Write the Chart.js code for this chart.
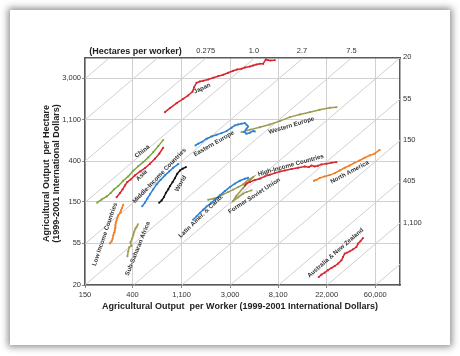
<!DOCTYPE html>
<html><head><meta charset="utf-8">
<script src="https://cdn.jsdelivr.net/npm/chart.js@4.4.1/dist/chart.umd.min.js"></script>
<style>
html,body{margin:0;padding:0;background:#fff;width:460px;height:356px;overflow:hidden}
#card{position:absolute;left:10px;top:10px;width:440px;height:335px;background:#fff;box-shadow:0 0 7px 2px rgba(0,0,0,0.45)}
#wrap{position:absolute;left:0;top:0;width:460px;height:356px}
</style></head><body>
<div id="card"></div>
<div id="wrap"><canvas id="c" width="460" height="356"></canvas></div>
<script>
// ---- axis ticks ----
const xTicks = [150, 400, 1100, 3000, 8100, 22000, 60000];
const xTickLabels = ['150', '400', '1,100', '3,000', '8,100', '22,000', '60,000'];
const yTicks = [20, 55, 150, 400, 1100, 3000];
const yTickLabels = ['20', '55', '150', '400', '1,100', '3,000'];
const X_MIN = 150, X_MAX = 100000, Y_MIN = 20, Y_MAX = 4900;
// hectares per worker (top and right axes)
const topHectares = [0.37, 1.0, 2.7, 7.5];
const topHectareLabels = ['0.275', '1.0', '2.7', '7.5'];
const rightHectares = [20, 55, 150, 405, 1100];
const rightHectareLabels = ['20', '55', '150', '405', '1,100'];
// constant hectares-per-worker guide lines
const hectareLines = [0.0505, 0.137, 0.373, 1.015, 2.76, 7.5, 20.4, 55.4, 150.6, 409, 1112, 3023];

// ---- series: output per worker (W) and output per hectare (H) ----
const japanW = [780,866,994,1138,1262,1382,1428,1500,1605,1718,1906,2114,2341,2600,2880,3193,3465,3796,4065,4505,4821,5170,5535,5924,6264,6565,6900,7545];
const japanH = [1319,1453,1640,1824,1976,2177,2416,2689,2773,2821,2912,3034,3155,3262,3425,3592,3710,3772,3891,3986,4087,4188,4259,4259,4725,4645,4612,4645];
const chinaW = [193,212,235,255,273,298,330,366,406,450,499,553,613,680,753];
const chinaH = [147,159,171,186,203,220,250,278,319,356,393,440,500,579,670];
const asiaW = [288,309,326,342,359,385,420,466,517,573,635,694,753];
const asiaH = [168,186,203,223,242,258,285,313,340,378,427,482,557];
const micW = [489,517,543,573,613,658,715,780,851,924,1027];
const micH = [135,147,162,180,203,229,256,285,313,343,375];
const worldW = [694,729,765,797,836,866,915,960,1006,1064,1124,1203];
const worldH = [147,155,168,187,203,220,242,267,296,321,335,348];
const lowIncW = [251,260,265,269,273,277,279,280,284,288,292,298,309,315,322,330];
const lowIncH = [55,57.7,61.5,66.6,71.2,75.2,79.5,84.9,90.7,95.9,101,108,115.5,122,129,140];
const ssaW = [360,366,374,391,383,398,406,414,425,435,447];
const ssaH = [40.1,45.2,49.8,51.7,56.2,62.0,66.6,72.5,78.4,81.9,87.0];
const eEurW = [1469,1551,1664,1844,2045,2265,2513,2786,3089,3306,3540,3796,4065,4209,4351,4209,4007,4209,4505,4821,4993];
const eEurH = [589,614,638,693,732,763,793,833,904,956,979,996,1012,972,932,883,813,782,801,833,827];
const wEurW = [3796,4505,5535,6800,8364,10279,12629,15512,19066,23442,26915];
const wEurH = [813,862,917,979,1061,1169,1247,1319,1399,1467,1489];
const highIncW = [4065,4209,4505,4993,5535,6134,6800,7545,8364,9270,10645,12198,13994,15208,16070,17200,18411,19748,21907,24290,26915];
const highIncH = [223,235,242,255,263,278,289,301,313,321,332,343,354,348,362,354,360,372,378,388,393];
const nAmW = [16955,17810,19066,21136,23442,26002,28807,31946,35397,39248,43500,48220,53450,59244,65658];
const nAmH = [250,256,267,278,287,301,321,343,362,388,409,437,462,482,528];
const latAmW = [1399,1500,1605,1718,1844,2017,2187,2425,2690,2983,3306,3663,4065,4351];
const latAmH = [97.4,105.6,114.4,124,134,145.6,158,175.6,194.8,214,233,250,263,269];
const fsuW = [1906,2114,2341,2600,2880,3193,3540,3923,4351,4821,3899,3374,3193,3540,3923,4233,4664];
const fsuH = [158,162,168,180,190,201.6,214,229,255,273,208,171,153,167,183,191,198];
const ausW = [18690,19748,21136,22621,24290,26002,27828,29853,30855,31946,33482,35397,37912,40650,42008,44168,46572];
const ausH = [24.3,25.7,27.0,28.6,30.2,31.7,33.6,36.4,39.4,42.8,43.9,45.2,47.5,50.2,54.5,57.7,62.4];

const RED = '#d7262d', GREEN = '#7ca43c', BLUE = '#2b7fd6', BLACK = '#111111', ORANGE = '#f07d22', OLIVE = '#9d9a52';
const series = [
  {name:'Japan', w:japanW, h:japanH, color:RED},
  {name:'China', w:chinaW, h:chinaH, color:GREEN},
  {name:'Asia', w:asiaW, h:asiaH, color:RED},
  {name:'Middle-Income Countries', w:micW, h:micH, color:BLUE},
  {name:'World', w:worldW, h:worldH, color:BLACK},
  {name:'Low Income Countries', w:lowIncW, h:lowIncH, color:ORANGE},
  {name:'Sub-Saharan Africa', w:ssaW, h:ssaH, color:OLIVE},
  {name:'Eastern Europe', w:eEurW, h:eEurH, color:BLUE},
  {name:'Western Europe', w:wEurW, h:wEurH, color:OLIVE},
  {name:'High-Income Countries', w:highIncW, h:highIncH, color:RED},
  {name:'North America', w:nAmW, h:nAmH, color:ORANGE},
  {name:'Latin Amer. & Carib.', w:latAmW, h:latAmH, color:BLUE},
  {name:'Former Soviet Union', w:fsuW, h:fsuH, color:OLIVE},
  {name:'Australia & New Zealand', w:ausW, h:ausH, color:RED}
];
// label anchors in data space + rotation
const seriesLabels = [
  {text:'Japan', w:1685, h:2341, angle:-25},
  {text:'China', w:489, h:509, angle:-38},
  {text:'Asia', w:483, h:285, angle:-45},
  {text:'Middle-Income Countries', w:697, h:283, angle:-46},
  {text:'World', w:1085, h:233, angle:-60},
  {text:'Low Income Countries', w:226, h:68.3, angle:-71},
  {text:'Sub-Saharan Africa', w:446, h:48.3, angle:-68},
  {text:'Eastern Europe', w:2144, h:614, angle:-30},
  {text:'Western Europe', w:10645, h:956, angle:-17},
  {text:'High-Income Countries', w:10490, h:365, angle:-15.5},
  {text:'North America', w:35397, h:308, angle:-28},
  {text:'Latin Amer. & Carib.', w:1641, h:105.6, angle:-44},
  {text:'Former Soviet Union', w:4942, h:174, angle:-33},
  {text:'Australia & New Zealand', w:26420, h:43.6, angle:-41}
];

const FONT = "'Liberation Sans', Arial, Helvetica, sans-serif";
Chart.defaults.font.family = FONT;
Chart.defaults.color = '#333';

const datasets = [];
series.forEach(s => {
  datasets.push({
    label: s.name,
    data: s.w.map((v, i) => ({x: v, y: s.h[i]})),
    showLine: true, borderColor: s.color, backgroundColor: s.color,
    borderWidth: 1.5, pointStyle: 'rect', pointRadius: 1.3, pointBorderWidth: 0,
    tension: 0, order: 1
  });
});
hectareLines.forEach(hh => {
  const x0 = Math.max(X_MIN, hh * Y_MIN), x1 = Math.min(X_MAX, hh * Y_MAX);
  datasets.push({
    label: 'ha' + hh,
    data: [{x: x0, y: x0 / hh}, {x: x1, y: x1 / hh}],
    showLine: true, borderColor: '#cfcfcf', borderWidth: 1, pointRadius: 0, order: 10
  });
});

const textPlugin = {
  id: 'texts',
  afterDatasetsDraw(chart) {
    const ctx = chart.ctx, xs = chart.scales.x, ys = chart.scales.y, a = chart.chartArea;
    ctx.save();
    ctx.fillStyle = '#333';
    ctx.font = 'bold 6.2px ' + FONT;
    ctx.textAlign = 'center'; ctx.textBaseline = 'middle';
    seriesLabels.forEach(l => {
      ctx.save();
      ctx.translate(xs.getPixelForValue(l.w), ys.getPixelForValue(l.h));
      ctx.rotate(l.angle * Math.PI / 180);
      ctx.fillText(l.text, 0, 0);
      ctx.restore();
    });
    ctx.fillStyle = '#222';
    ctx.font = 'bold 9px ' + FONT;
    ctx.fillText('Agricultural Output  per Worker (1999-2001 International Dollars)', a.left + 155, a.bottom + 22);
    ctx.fillText('(Hectares per worker)', a.left + 50.5, a.top - 6);
    ctx.save();
    ctx.translate(47, (a.top + a.bottom) / 2 + 2);
    ctx.rotate(-Math.PI / 2);
    ctx.fillText('Agricultural Output  per Hectare', 0, 0);
    ctx.restore();
    ctx.save();
    ctx.translate(57, (a.top + a.bottom) / 2 + 2);
    ctx.rotate(-Math.PI / 2);
    ctx.fillText('(1999-2001 International Dollars)', 0, 0);
    ctx.restore();
    ctx.restore();
  }
};

const tickFont = {size: 7.5};
const border = {display: true, color: '#5a5a5a', width: 1.5};
new Chart(document.getElementById('c'), {
  type: 'scatter',
  data: {datasets},
  options: {
    responsive: false, animation: false, devicePixelRatio: 1,
    layout: {padding: 0},
    plugins: {legend: {display: false}, tooltip: {enabled: false}},
    scales: {
      x: {
        type: 'logarithmic', position: 'bottom', min: X_MIN, max: X_MAX,
        afterBuildTicks: s => { s.ticks = xTicks.map(v => ({value: v})); },
        afterFit: s => { s.height = 71; },
        ticks: {callback: (v, i) => xTickLabels[i], autoSkip: false, maxRotation: 0, font: tickFont, color: '#333', padding: 2},
        grid: {color: '#d0d0d0', lineWidth: 1, tickLength: 3, tickColor: '#888'},
        border
      },
      x2: {
        axis: 'x', type: 'logarithmic', position: 'top', min: X_MIN, max: X_MAX,
        afterBuildTicks: s => { s.ticks = topHectares.map(h => ({value: h * Y_MAX})); },
        afterFit: s => { s.height = 58; },
        ticks: {callback: (v, i) => topHectareLabels[i], autoSkip: false, maxRotation: 0, font: tickFont, color: '#333', padding: 3},
        grid: {display: false, drawTicks: false},
        border
      },
      y: {
        type: 'logarithmic', position: 'left', min: Y_MIN, max: Y_MAX,
        afterBuildTicks: s => { s.ticks = yTicks.map(v => ({value: v})); },
        afterFit: s => { s.width = 85; },
        ticks: {callback: (v, i) => yTickLabels[i], autoSkip: false, font: tickFont, color: '#333', padding: 1},
        grid: {color: '#d0d0d0', lineWidth: 1, tickLength: 3, tickColor: '#888'},
        border
      },
      y2: {
        axis: 'y', type: 'logarithmic', position: 'right', min: Y_MIN, max: Y_MAX,
        afterBuildTicks: s => { s.ticks = rightHectares.map(h => ({value: X_MAX / h})); },
        afterFit: s => { s.width = 60; },
        ticks: {callback: (v, i) => rightHectareLabels[i], autoSkip: false, font: tickFont, color: '#333', padding: 3},
        grid: {display: false, drawTicks: false},
        border
      }
    }
  },
  plugins: [textPlugin]
});
</script>
</body></html>
